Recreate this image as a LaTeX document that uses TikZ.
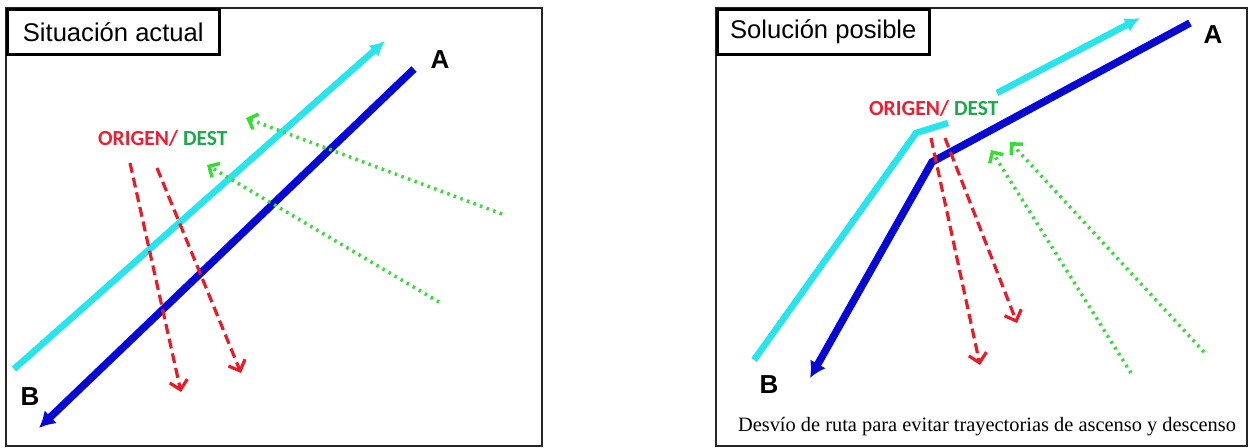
\documentclass[tikz,border=0pt]{standalone}
\usepackage{fontspec}
\setmainfont{Liberation Sans}
\newfontfamily\calfont{Carlito}
\newfontfamily\timesfont{Liberation Serif}
\usepackage{tikz}
\usetikzlibrary{arrows.meta,positioning,calc}

\definecolor{routecyan}{RGB}{40,228,236}
\definecolor{routeblue}{RGB}{8,8,212}
\definecolor{trajred}{RGB}{232,28,40}
\definecolor{trajgreen}{RGB}{52,222,52}
\definecolor{txtred}{RGB}{238,30,50}
\definecolor{txtgreen}{RGB}{30,168,78}

\begin{document}
\begin{tikzpicture}[x=1pt, y=-1pt,
    titlebox/.style={draw, line width=2.5pt, anchor=north west, minimum width=212pt, minimum height=45pt, inner sep=0pt, font=\fontsize{25.6}{28}\selectfont},
    endlbl/.style={inner sep=0pt, font=\fontsize{26}{28}\selectfont\bfseries},
    odlbl/.style={anchor=west, inner sep=0pt, font=\fontsize{21.5}{24}\selectfont\calfont\bfseries},
    cyanroute/.style={routecyan, line width=6.5pt},
    blueroute/.style={routeblue, line width=7.5pt},
    reddash/.style={trajred, line width=3.2pt, dash pattern=on 10pt off 5pt, -{Straight Barb[length=9pt, width=18pt]}},
    greendot/.style={trajgreen, line width=3.5pt, dash pattern=on 2.5pt off 4.5pt, -{Straight Barb[length=8pt, width=16pt]}}]
    \useasboundingbox (0,0) rectangle (1249,447);

    % left panel: current situation
    \draw[line width=2pt, black!85] (6,8) rectangle (542,446);
    \node[titlebox] (sit) at (6,8) {Situación actual};
    \coordinate (cyL0) at (14,369);
    \coordinate (cyL1) at (385,41);
    \coordinate (blL0) at (414,69);
    \coordinate (blL1) at (39,428);
    \draw[cyanroute, -{Latex[length=15pt, width=15pt]}] (cyL0) -- (cyL1);
    \draw[blueroute, -{Latex[length=16pt, width=18pt]}] (blL0) -- (blL1);
    \node[endlbl] (aL) at (440,60) {A};
    \node[endlbl] (bL) at (30,397) {B};
    \draw[reddash] (130,163) -- (181,392);
    \draw[reddash] (157,168) -- (241,373);
    \draw[greendot] (502,214) -- (246,118);
    \draw[greendot] (439,302) -- (207,165);
    \node[odlbl] (odL) at (98,138) {\color{txtred}ORIGEN/ \color{txtgreen}DEST};

    % right panel: possible solution
    \draw[line width=2pt, black!85] (716,8) rectangle (1247,446);
    \node[titlebox] (sol) at (716,8) {Solución posible};
    \draw[cyanroute] (754,360) -- (916,133) -- (948,123);
    \draw[cyanroute, -{Latex[length=15pt, width=15pt]}] (997,93) -- (1140,18);
    \draw[blueroute, line join=miter, -{Latex[length=16pt, width=18pt]}] (1190,23) -- (932,162) -- (810,378);
    \node[endlbl] (aR) at (1213,35) {A};
    \node[endlbl] (bR) at (769,385) {B};
    \draw[reddash] (931,138) -- (980,365);
    \draw[reddash] (945,138) -- (1017,323);
    \draw[greendot] (1131,373) -- (991,150);
    \draw[greendot] (1204,352) -- (1010,142);
    \node[odlbl] (odR) at (869,108) {\color{txtred}ORIGEN/ \color{txtgreen}DEST};
    \node[inner sep=0pt, font=\fontsize{20.4}{23}\selectfont\timesfont] (cap) at (987,427) {Desvío de ruta para evitar trayectorias de ascenso y descenso};
\end{tikzpicture}
\end{document}
